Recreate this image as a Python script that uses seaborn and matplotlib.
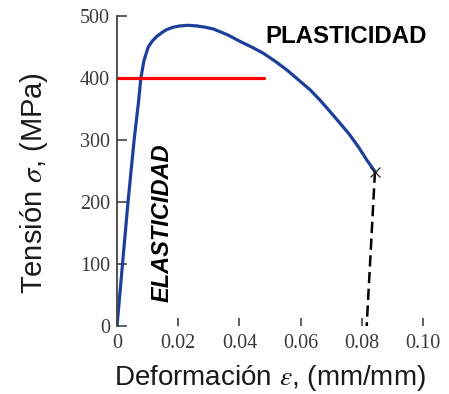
import matplotlib
matplotlib.use("Agg")
import matplotlib.pyplot as plt
import seaborn as sns

# curva tensión-deformación
strain = [0, 0.0018, 0.0036, 0.0056, 0.0070, 0.0078, 0.0088, 0.0102, 0.0116,
          0.0130, 0.0146, 0.0162, 0.0184, 0.0206, 0.0233, 0.0260, 0.0288,
          0.0315, 0.0340, 0.0364, 0.0402, 0.0440, 0.0478, 0.0517, 0.0555,
          0.0593, 0.0631, 0.0664, 0.0696, 0.0729, 0.0761, 0.0790, 0.0816,
          0.0843]
stress = [0, 100, 200, 300, 360, 400, 428, 450, 460, 467, 473, 478, 482, 484,
          485, 484, 482, 479, 474, 469, 459, 450, 440, 427, 413, 397, 381,
          364, 346, 327, 308, 288, 268, 249]

# línea de fluencia (roja) y descarga tras rotura (discontinua)
yield_x = [0, 0.048]
yield_y = [400, 400]
fract_x = [0.0843, 0.0816]
fract_y = [249, 0]

x_ticks = [0, 0.02, 0.04, 0.06, 0.08, 0.10]
x_labels = ["0", "0.02", "0.04", "0.06", "0.08", "0.10"]
y_ticks = [0, 100, 200, 300, 400, 500]

sns.set_style("ticks")
plt.rcParams["font.family"] = ["Liberation Sans", "DejaVu Sans"]
plt.rcParams["mathtext.fontset"] = "stix"
plt.rcParams["text.color"] = "black"

fig = plt.figure(figsize=(4.49, 3.94), dpi=100)
ax = fig.add_axes([117 / 449, 68 / 394, 306 / 449, 310 / 394])

sns.lineplot(x=strain, y=stress, sort=False, estimator=None, ax=ax,
             color="#1c3f99", linewidth=2.3)
sns.lineplot(x=yield_x, y=yield_y, sort=False, estimator=None, ax=ax,
             color="#ff0000", linewidth=2.3)
ax.plot(fract_x, fract_y, color="black", linewidth=1.8, dashes=(4.5, 2.2))
ax.plot([strain[-1]], [stress[-1]], marker="x", color="#222222",
        markersize=7, markeredgewidth=0.9)

ax.set_xlim(0, 0.10)
ax.set_ylim(0, 500)
ax.set_xticks(x_ticks)
ax.set_xticklabels(x_labels)
ax.set_yticks(y_ticks)

for lab in ax.get_xticklabels() + ax.get_yticklabels():
    lab.set_family("Liberation Serif")
    lab.set_fontsize(14.5)
    lab.set_color("#3a3a3a")

ax.tick_params(axis="x", direction="in", length=6, width=1.2,
               color="#444444", pad=6)
ax.tick_params(axis="y", direction="in", length=7, width=1.2,
               color="#444444", pad=5)

sns.despine(ax=ax, top=True, right=True, bottom=True)
ax.spines["left"].set_color("#444444")
ax.spines["left"].set_linewidth(1.3)

ax.set_xlabel(r"Deformación $\varepsilon$, (mm/mm)", fontsize=20,
              labelpad=7, color="#1a1a1a")
ax.set_ylabel(r"Tensión $\sigma$, (MPa)", fontsize=21, color="#1a1a1a")
ax.yaxis.set_label_coords(-0.22, 0.46)

ax.text(0.0748, 467, "PLASTICIDAD", fontsize=17.3, fontweight="bold",
        ha="center", va="center", color="black")
ax.text(0.0147, 166, "ELASTICIDAD", fontsize=17, fontweight="bold",
        fontstyle="italic", rotation=90, ha="center", va="center",
        color="black")

fig.savefig("out.png", dpi=100)
